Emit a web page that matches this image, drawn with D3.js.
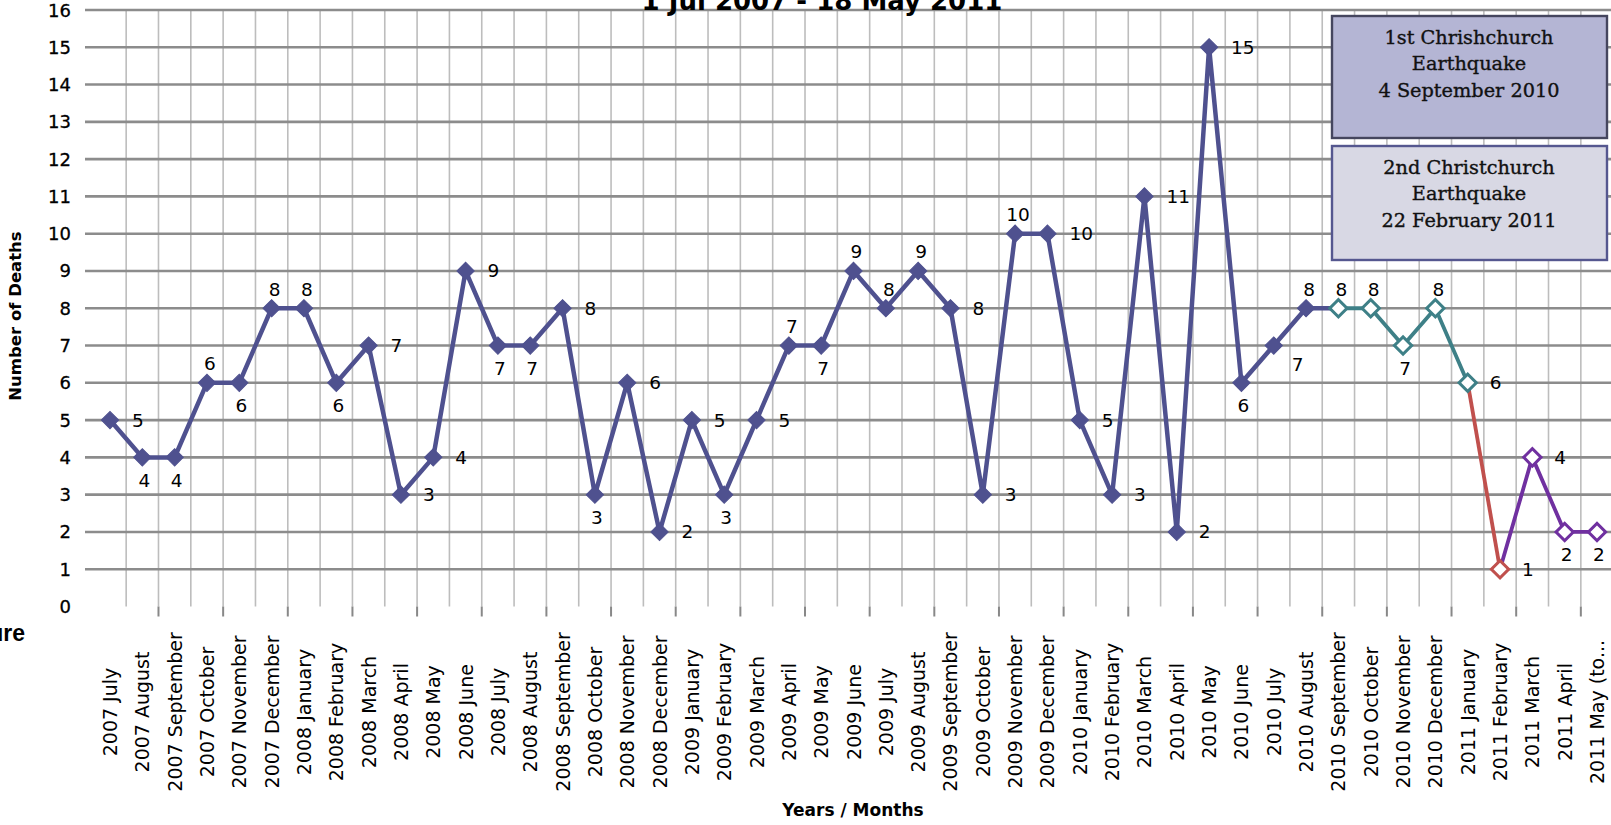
<!DOCTYPE html>
<html>
<head>
<meta charset="utf-8">
<script src="https://d3js.org/d3.v7.min.js"></script>
<style>
  body { margin: 0; background: #fff; }
  svg { display: block; }
</style>
</head>
<body>
<script>
// monthly deaths, 1 Jul 2007 - 18 May 2011
var months = ["2007 July", "2007 August", "2007 September", "2007 October", "2007 November", "2007 December",
  "2008 January", "2008 February", "2008 March", "2008 April", "2008 May", "2008 June",
  "2008 July", "2008 August", "2008 September", "2008 October", "2008 November", "2008 December",
  "2009 January", "2009 February", "2009 March", "2009 April", "2009 May", "2009 June",
  "2009 July", "2009 August", "2009 September", "2009 October", "2009 November", "2009 December",
  "2010 January", "2010 February", "2010 March", "2010 April", "2010 May", "2010 June",
  "2010 July", "2010 August", "2010 September", "2010 October", "2010 November", "2010 December",
  "2011 January", "2011 February", "2011 March", "2011 April", "2011 May (to..."];

var deaths = [5, 4, 4, 6, 6, 8,
  8, 6, 7, 3, 4, 9, 7, 7, 8, 3, 6, 2,
  5, 3, 5, 7, 7, 9, 8, 9, 8, 3, 10, 10,
  5, 3, 11, 2, 15, 6, 7, 8, 8, 8, 7, 8,
  6, 1, 4, 2, 2];

// where Excel put each data label: R right, A above, B below, BR below right
var labelPos = ["R", "B", "B", "A", "B", "A",
  "A", "B", "R", "R", "R", "R", "B", "B", "R", "B", "R", "R",
  "R", "B", "R", "A", "B", "A", "A", "A", "R", "R", "A", "R",
  "R", "R", "R", "R", "R", "B", "BR", "A", "A", "A", "B", "A",
  "R", "R", "R", "B", "B"];

var yTicks = d3.range(1, 17);
var yLabels = d3.range(0, 17);

// line pieces change colour at the two earthquakes
var phaseLine = [["2007 July", "2010 September"], ["2010 September", "2011 January"],
  ["2011 January", "2011 February"], ["2011 February", "2011 May (to..."]];
var phaseMarks = [["2007 July", "2010 August"], ["2010 September", "2011 January"],
  ["2011 February", "2011 February"], ["2011 March", "2011 May (to..."]];

var notes = [["1st Chrishchurch", "Earthquake", "4 September 2010"],
  ["2nd Christchurch", "Earthquake", "22 February 2011"]];

var phaseColor = ["#4f518f", "#3e8087", "#c0504d", "#7030a0"];
var phaseHollow = [false, true, true, true];

var width = 1611, height = 825;

var svg = d3.select("body").append("svg")
  .attr("width", width)
  .attr("height", height);

var x = d3.scalePoint().domain(months).range([110, 1597]);
var y = d3.scaleLinear().domain([0, 16]).range([606.5, 10]);

// vertical grid between categories
var bounds = d3.range(months.length - 1).map(function (i) {
  return (x(months[i]) + x(months[i + 1])) / 2;
});

svg.append("g").selectAll("line")
  .data(bounds)
  .enter().append("line")
    .attr("x1", function (d) { return d; })
    .attr("x2", function (d) { return d; })
    .attr("y1", y(16))
    .attr("y2", y(0))
    .attr("stroke", "#bdbdbd")
    .attr("stroke-width", 1.6);

// tick marks, every other boundary
svg.append("g").selectAll("line")
  .data(bounds.filter(function (d, i) { return i % 2 == 1; }))
  .enter().append("line")
    .attr("x1", function (d) { return d; })
    .attr("x2", function (d) { return d; })
    .attr("y1", y(0))
    .attr("y2", y(0) + 10)
    .attr("stroke", "#888")
    .attr("stroke-width", 2);

svg.append("g").selectAll("line")
  .data(yTicks)
  .enter().append("line")
    .attr("x1", 85)
    .attr("x2", width)
    .attr("y1", function (d) { return y(d); })
    .attr("y2", function (d) { return y(d); })
    .attr("stroke", "#8c8c8c")
    .attr("stroke-width", 2.6);

svg.append("g").selectAll("text")
  .data(yLabels)
  .enter().append("text")
    .attr("x", 71)
    .attr("y", function (d) { return y(d); })
    .attr("text-anchor", "end")
    .attr("dominant-baseline", "central")
    .style("font-family", "DejaVu Sans")
    .style("font-size", "18px")
    .style("stroke", "#000")
    .style("stroke-width", 0.3)
    .text(function (d) { return d; });

// x labels, rotated
svg.append("g").selectAll("text")
  .data(months)
  .enter().append("text")
    .attr("transform", function (d) { return "translate(" + x(d) + ",712) rotate(-90)"; })
    .attr("text-anchor", "middle")
    .attr("dominant-baseline", "central")
    .style("font-family", "DejaVu Sans")
    .style("font-size", "19px")
    .text(function (d) { return d; });

// title, mostly cut off at the top
svg.append("text")
  .attr("x", 822)
  .attr("y", 10)
  .attr("text-anchor", "middle")
  .style("font-family", "DejaVu Sans")
  .style("font-weight", "bold")
  .style("font-size", "26px")
  .text("1 Jul 2007 - 18 May 2011");

svg.append("text")
  .attr("transform", "translate(15,316) rotate(-90)")
  .attr("text-anchor", "middle")
  .attr("dominant-baseline", "central")
  .style("font-family", "DejaVu Sans")
  .style("font-weight", "bold")
  .style("font-size", "16.5px")
  .text("Number of Deaths");

svg.append("text")
  .attr("x", 853)
  .attr("y", 810)
  .attr("text-anchor", "middle")
  .attr("dominant-baseline", "central")
  .style("font-family", "DejaVu Sans")
  .style("font-weight", "bold")
  .style("font-size", "17px")
  .text("Years / Months");

// leftover caption from the page
svg.append("text")
  .attr("x", 25)
  .attr("y", 633)
  .attr("text-anchor", "end")
  .attr("dominant-baseline", "central")
  .style("font-family", "Liberation Sans")
  .style("font-weight", "bold")
  .style("font-size", "23px")
  .text("Figure");

var data = months.map(function (m, i) { return { month: m, value: deaths[i], pos: labelPos[i], i: i }; });

var line = d3.line()
  .x(function (d) { return x(d.month); })
  .y(function (d) { return y(d.value); });

function slice(range) {
  var a = months.indexOf(range[0]), b = months.indexOf(range[1]);
  return data.slice(a, b + 1);
}

phaseLine.forEach(function (r, p) {
  svg.append("path")
    .datum(slice(r))
    .attr("d", line)
    .attr("fill", "none")
    .attr("stroke", phaseColor[p])
    .attr("stroke-width", p == 0 ? 4.5 : 3.8)
    .attr("stroke-linejoin", "round");
});

phaseMarks.forEach(function (r, p) {
  svg.append("g").selectAll("path")
    .data(slice(r))
    .enter().append("path")
      .attr("d", d3.symbol(d3.symbolSquare, phaseHollow[p] ? 150 : 150))
      .attr("transform", function (d) { return "translate(" + x(d.month) + "," + y(d.value) + ") rotate(45)"; })
      .attr("fill", phaseHollow[p] ? "#fff" : phaseColor[p])
      .attr("stroke", phaseColor[p])
      .attr("stroke-width", phaseHollow[p] ? 3 : 1);
});

// data labels
var off = { R: [22, 0, "start"], A: [3, -19, "middle"], B: [2, 23, "middle"], BR: [18, 19, "start"] };
svg.append("g").selectAll("text")
  .data(data)
  .enter().append("text")
    .attr("x", function (d) { return x(d.month) + off[d.pos][0]; })
    .attr("y", function (d) { return y(d.value) + off[d.pos][1]; })
    .attr("text-anchor", function (d) { return off[d.pos][2]; })
    .attr("dominant-baseline", "central")
    .style("font-family", "DejaVu Sans")
    .style("font-size", "18.5px")
    .text(function (d) { return d.value; });

// earthquake note boxes
var boxes = [
  { y: 16, h: 122, fill: "#b4b5d4", stroke: "#45465e" },
  { y: 146, h: 114, fill: "#d8d8e4", stroke: "#55578f" }
];
var note = svg.append("g").selectAll("g")
  .data(notes)
  .enter().append("g");

note.append("rect")
  .attr("x", 1332)
  .attr("y", function (d, i) { return boxes[i].y; })
  .attr("width", 275)
  .attr("height", function (d, i) { return boxes[i].h; })
  .attr("fill", function (d, i) { return boxes[i].fill; })
  .attr("stroke", function (d, i) { return boxes[i].stroke; })
  .attr("stroke-width", 2.4);

note.each(function (lines, i) {
  d3.select(this).selectAll("text")
    .data(lines)
    .enter().append("text")
      .attr("x", 1469)
      .attr("y", function (d, j) { return boxes[i].y + 21 + j * 26.5; })
      .attr("text-anchor", "middle")
      .attr("dominant-baseline", "central")
      .style("font-family", "DejaVu Serif")
      .style("font-size", "19.3px")
      .style("fill", "#111")
      .style("stroke", "#111")
      .style("stroke-width", 0.35)
      .text(function (d) { return d; });
});
</script>
</body>
</html>
